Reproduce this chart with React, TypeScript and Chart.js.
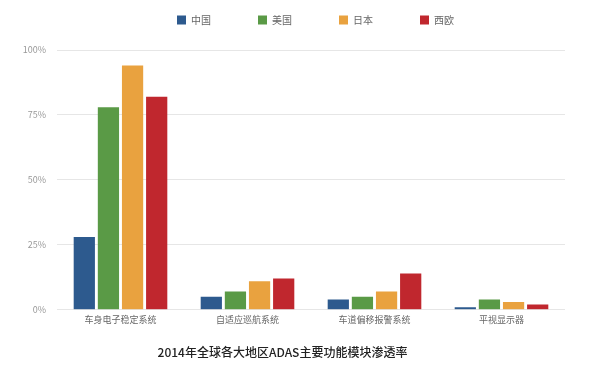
import React, { useEffect, useRef } from "react";
import { Chart, registerables } from "chart.js";

Chart.register(...registerables);

const categories = ["车身电子稳定系统", "自适应巡航系统", "车道偏移报警系统", "平视显示器"];
const seriesNames = ["中国", "美国", "日本", "西欧"];
const chinaValues = [28, 5, 4, 1];
const usValues = [78, 7, 5, 4];
const japanValues = [94, 11, 7, 3];
const europeValues = [82, 12, 14, 2];
const seriesColors = ["#2d5a8e", "#5a9a46", "#e9a23f", "#c0272e"];
const yTicks = [0, 25, 50, 75, 100];
const titleText = "2014年全球各大地区ADAS主要功能模块渗透率";

const FONT = "'Noto Sans CJK SC', 'Noto Sans', sans-serif";
const LEGEND_PAD = 47;

const legendPlacement = {
  id: "legendPlacement",
  beforeInit(chart: any) {
    const legend = chart.legend;
    if (!legend) return;
    const origFit = legend.fit;
    legend.fit = function () {
      origFit.call(this);
      this.height = 45;
    };
  },
  afterLayout(chart: any) {
    const legend = chart.legend;
    if (!legend) return;
    const dx = 33;
    legend.left += dx;
    legend.right += dx;
    legend.top = 20 - 5 - LEGEND_PAD;
  },
};

export default function App() {
  const ref = useRef<HTMLCanvasElement | null>(null);
  useEffect(() => {
    if (!ref.current) return;
    const values = [chinaValues, usValues, japanValues, europeValues];
    const chart = new Chart(ref.current, {
      type: "bar",
      data: {
        labels: categories,
        datasets: seriesNames.map((name, i) => ({
          label: name,
          data: values[i],
          backgroundColor: seriesColors[i],
          borderWidth: 0,
          categoryPercentage: 0.76,
          barPercentage: 0.88,
        })),
      },
      options: {
        responsive: false,
        animation: false,
        layout: { padding: { left: 0, right: 35, top: 5, bottom: 12.8 } },
        plugins: {
          legend: {
            position: "top",
            labels: {
              boxWidth: 9,
              boxHeight: 9,
              padding: LEGEND_PAD,
              color: "#666",
              font: { family: FONT, size: 10 },
            },
          },
          title: {
            display: true,
            text: titleText,
            position: "bottom",
            color: "#222",
            font: { family: FONT, size: 12, weight: 500 },
            padding: { top: 10, bottom: 0 },
          },
          tooltip: { enabled: false },
        },
        scales: {
          x: {
            afterFit: (s: any) => {
              s.height = 25;
            },
            grid: { display: false, drawTicks: false },
            border: { display: false },
            ticks: { color: "#666", font: { family: FONT, size: 9 }, padding: 4 },
          },
          y: {
            min: 0,
            max: 100,
            afterFit: (s: any) => {
              s.width = 57;
            },
            border: { display: false },
            grid: { color: "#e6e6e6", drawTicks: false },
            ticks: {
              stepSize: 25,
              padding: 11,
              color: "#999",
              font: { family: FONT, size: 9 },
              callback: (v: any) => (yTicks.includes(Number(v)) ? v + "%" : ""),
            },
          },
        },
      },
      plugins: [legendPlacement],
    });
    return () => chart.destroy();
  }, []);
  return (
    <div style={{ position: "fixed", left: 0, top: 0, width: 600, height: 372, background: "#fff" }}>
      <canvas ref={ref} width={600} height={372} />
    </div>
  );
}
